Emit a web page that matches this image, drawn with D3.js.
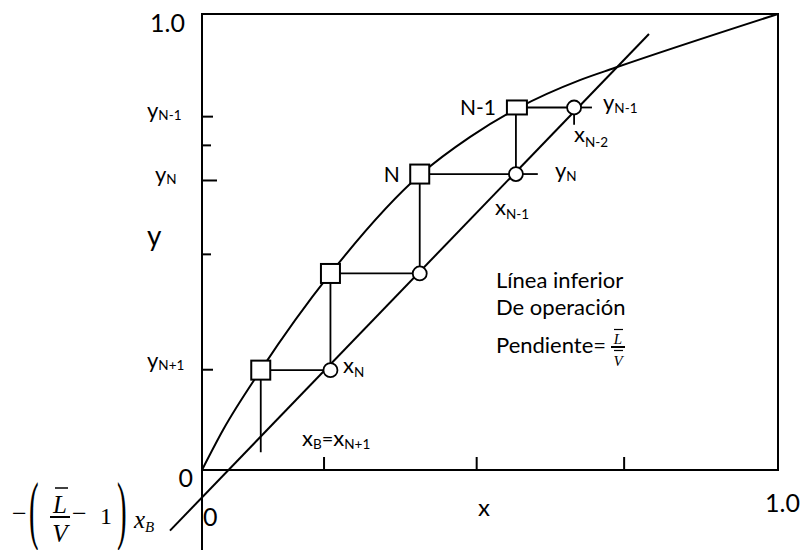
<!DOCTYPE html>
<html>
<head>
<meta charset="utf-8">
<script src="https://cdn.jsdelivr.net/npm/d3@7"></script>
<style>
  body { margin: 0; background: #fff; }
  svg { display: block; }
  text { font-family: Lato, "Open Sans", sans-serif; fill: #000; }
  .serif { font-family: "Liberation Serif", "DejaVu Serif", serif; }
</style>
</head>
<body>
<svg id="chart" width="805" height="550"></svg>
<script>
// Equilibrium curve (x, y mole fractions)
const eqX = [0, 0.0365, 0.102, 0.223, 0.380, 0.465, 0.549, 0.656, 0.717, 1];
const eqY = [0, 0.0877, 0.219, 0.431, 0.649, 0.730, 0.794, 0.855, 0.882, 1];

// Lower operating line, drawn between these two end points
const opX = [-0.0556, 0.776];
const opY = [-0.133, 0.956];

// Stage corners: square i sits at (stageX[i], stageY[i]),
// its circle on the operating line at (stageX[i + 1], stageY[i])
const stageX = [0.102, 0.223, 0.378, 0.545, 0.646];
const stageY = [0.219, 0.431, 0.649, 0.795];
const stageNames = ["", "", "N", "N-1"];
const xBFoot = 0.039;            // lower end of the vertical line at x_B

// Short leader strokes next to the top circles
const leaderRight = [0.583, 0.677];   // x where the y_N and y_N-1 leaders end
const leaderDownY = 0.757;            // y where the x_N-2 leader ends

// Axis ticks
const xTicks = [0.211, 0.476, 0.732];
const yTicks = [0.776, 0.713, 0.636, 0.474, 0.221];
const axisEnds = ["0", "1.0"];

const svg = d3.select("#chart");
const x = d3.scaleLinear().domain([0, 1]).range([202, 778]);
const y = d3.scaleLinear().domain([0, 1]).range([470, 14]);

// frame
svg.append("rect")
  .attr("x", x(0)).attr("y", y(1))
  .attr("width", x(1) - x(0)).attr("height", y(0) - y(1))
  .attr("fill", "none").attr("stroke", "#000").attr("stroke-width", 2);
svg.append("line")
  .attr("x1", x(0)).attr("x2", x(0)).attr("y1", y(0)).attr("y2", 550)
  .attr("stroke", "#000").attr("stroke-width", 2);

// bottom ticks, pointing inward
const gx = svg.append("g").attr("transform", `translate(0,${y(0)})`)
  .call(d3.axisBottom(x).tickValues(xTicks).tickSize(-13).tickFormat(""));
gx.select(".domain").remove();
gx.selectAll(".tick line").attr("stroke", "#000").attr("stroke-width", 2);

// left ticks, pointing inward, of varying length
const yTickLen = [11, 9, 15, 9, 11];
const gy = svg.append("g").attr("transform", `translate(${x(0)},0)`)
  .call(d3.axisLeft(y).tickValues(yTicks).tickSize(-10).tickFormat(""));
gy.select(".domain").remove();
gy.selectAll(".tick line").attr("x2", (d, i) => yTickLen[i])
  .attr("stroke", "#000").attr("stroke-width", 2);

// curves
svg.append("path")
  .datum(eqX.map((v, i) => [v, eqY[i]]))
  .attr("d", d3.line().x(d => x(d[0])).y(d => y(d[1])).curve(d3.curveMonotoneX))
  .attr("fill", "none").attr("stroke", "#000").attr("stroke-width", 2);
svg.append("path")
  .datum(opX.map((v, i) => [v, opY[i]]))
  .attr("d", d3.line().x(d => x(d[0])).y(d => y(d[1])))
  .attr("fill", "none").attr("stroke", "#000").attr("stroke-width", 2);

// staircase
const steps = [[stageX[0], xBFoot]];
stageY.forEach((sy, i) => {
  steps.push([stageX[i], sy]);
  steps.push([stageX[i + 1], sy]);
});
svg.append("path")
  .datum(steps)
  .attr("d", d3.line().x(d => x(d[0])).y(d => y(d[1])))
  .attr("fill", "none").attr("stroke", "#000").attr("stroke-width", 1.8);

// leaders
const leaders = [
  [[stageX[3], stageY[2]], [leaderRight[0], stageY[2]]],
  [[stageX[4], stageY[3]], [leaderRight[1], stageY[3]]],
  [[stageX[4], stageY[3]], [stageX[4], leaderDownY]]
];
svg.selectAll(".leader").data(leaders).join("line")
  .attr("class", "leader")
  .attr("x1", d => x(d[0][0])).attr("y1", d => y(d[0][1]))
  .attr("x2", d => x(d[1][0])).attr("y2", d => y(d[1][1]))
  .attr("stroke", "#000").attr("stroke-width", 1.8);

// circles on the operating line
svg.selectAll(".op").data(stageY).join("circle")
  .attr("class", "op")
  .attr("cx", (d, i) => x(stageX[i + 1])).attr("cy", d => y(d))
  .attr("r", 7).attr("fill", "#fff").attr("stroke", "#000").attr("stroke-width", 1.8);

// squares on the equilibrium curve (the top one is a little flatter)
svg.selectAll(".eq").data(stageY).join("rect")
  .attr("class", "eq")
  .attr("width", (d, i) => i === 3 ? 20 : 19)
  .attr("height", (d, i) => i === 3 ? 14 : 19)
  .attr("x", (d, i) => x(stageX[i]) - (i === 3 ? 9 : 9.5))
  .attr("y", (d, i) => y(d) - (i === 3 ? 7 : 9.5))
  .attr("fill", "#fff").attr("stroke", "#000").attr("stroke-width", 2);

// text helper: parts = [[string, fontSize, dy, fontStyle], ...]
function label(px, py, parts, anchor, cls) {
  const t = svg.append("text").attr("x", px).attr("y", py)
    .attr("text-anchor", anchor || "start");
  if (cls) t.attr("class", cls);
  parts.forEach(p => {
    const s = t.append("tspan").text(p[0]).attr("font-size", p[1]);
    if (p[2]) s.attr("dy", p[2]);
    if (p[3]) s.attr("font-style", p[3]);
  });
  return t;
}
function bar(x1, x2, yy, w) {
  svg.append("line").attr("x1", x1).attr("x2", x2).attr("y1", yy).attr("y2", yy)
    .attr("stroke", "#000").attr("stroke-width", w);
}

// stage names
svg.selectAll(".sname").data(stageNames).join("text")
  .attr("class", "sname")
  .attr("x", (d, i) => x(stageX[i]) - 20)
  .attr("y", (d, i) => y(stageY[i]) + 8)
  .attr("text-anchor", "end").attr("font-size", 21)
  .text(d => d);

// axis end labels
label(185, y(1) + 18, [[axisEnds[1], 25]], "end");
label(193, y(0) + 17, [[axisEnds[0], 25]], "end");
label(x(0) + 1, y(0) + 56, [[axisEnds[0], 25]], "start");
label(x(1) - 13, y(0) + 42, [[axisEnds[1], 25]], "start");
label((x(0) + x(1)) / 2 - 6, y(0) + 46, [["x", 24]], "middle");

// left y labels
label(147, y(yTicks[0]) + 2, [["y", 22], ["N-1", 13.5, 2]], "start");
label(155, y(yTicks[2]) + 2, [["y", 22], ["N", 13.5, 2]], "start");
label(147, 246, [["y", 28]], "start");
label(147, y(yTicks[4]) - 1, [["y", 22], ["N+1", 13.5, 2]], "start");

// labels around the stages
label(603, y(stageY[3]) + 3, [["y", 22], ["N-1", 13.5, 3]]);
label(574, 142, [["x", 22], ["N-2", 13.5, 5]]);
label(555, y(stageY[2]) + 4, [["y", 22], ["N", 13.5, 3]]);
label(495, 215, [["x", 22], ["N-1", 13.5, 4]]);
label(343, y(stageY[0]) + 3, [["x", 22], ["N", 13.5, 4]]);
label(302, 446, [["x", 22], ["B", 13.5, 3], ["=", 20, -3], ["x", 22], ["N+1", 13.5, 3]]);

// operating line note
label(496, 288, [["Línea inferior", 22]]);
label(496, 315, [["De operación", 22]]);
label(496, 353, [["Pendiente=", 22]]);
label(618, 344, [["L", 15, 0, "italic"]], "middle", "serif");
label(618, 366, [["V", 15, 0, "italic"]], "middle", "serif");
bar(614, 623, 329.5, 1.2);
bar(611, 625, 347, 2);
bar(614, 623, 350.5, 1.2);

// intercept of the operating line: −(L̄/V̄ − 1) x_B
label(12, 522, [["−", 26]], "start", "serif");
svg.append("text").attr("class", "serif").attr("font-size", 76)
  .attr("transform", "translate(29,535) scale(0.38,1)").text("(");
svg.append("text").attr("class", "serif").attr("font-size", 76)
  .attr("transform", "translate(117,535) scale(0.38,1)").text(")");
label(60, 513, [["L", 25, 0, "italic"]], "middle", "serif");
label(60, 542, [["V", 25, 0, "italic"]], "middle", "serif");
bar(55, 68, 488, 1.5);
bar(50, 70, 517, 2);
label(72, 522, [["−", 26]], "start", "serif");
label(100, 524, [["1", 24]], "start", "serif");
label(134, 528, [["x", 25, 0, "italic"], ["B", 15, 4, "italic"]], "start", "serif");
</script>
</body>
</html>
